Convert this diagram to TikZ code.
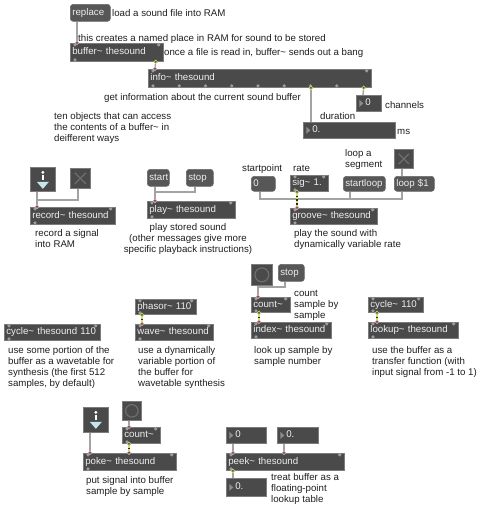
\documentclass[tikz,border=0pt]{standalone}
\usepackage{fontspec}
\setmainfont{Liberation Sans}
\usepackage{tikz}
\usetikzlibrary{arrows.meta, positioning}

\definecolor{boxbg}{HTML}{4A4A4A}
\definecolor{boxline}{HTML}{7C7C7C}
\definecolor{msgbg}{HTML}{575757}
\definecolor{msgline}{HTML}{696969}
\definecolor{boxtext}{HTML}{EEEEEE}
\definecolor{notetext}{HTML}{1E1E1E}
\definecolor{cordgray}{HTML}{A3A3A3}
\definecolor{portin}{HTML}{E3A3A3}
\definecolor{portout}{HTML}{C9D36A}
\definecolor{portdot}{HTML}{9C9C9C}
\definecolor{sigyel}{HTML}{D8DC6A}
\definecolor{numtri}{HTML}{8C8C8C}
\definecolor{xgray}{HTML}{6E6E6E}
\definecolor{adctri}{HTML}{C6E6EE}

\tikzset{
  obj/.style={anchor=north west, fill=boxbg, draw=boxline, line width=0.7pt, text=boxtext,
    text width=#1, inner xsep=2pt, inner ysep=0pt, minimum height=16pt, text height=7pt, text depth=2pt},
  msg/.style={obj=#1, fill=msgbg, draw=msgline, rounded corners=3pt},
  num/.style={obj=#1, execute at begin node=\hspace*{7pt},
    path picture={\fill[numtri] ([xshift=3pt,yshift=3.5pt]path picture bounding box.west)
      -- ++(4pt,-3.5pt) -- ++(-4pt,-3.5pt) -- cycle;}},
  toggle/.style={anchor=north west, fill=boxbg, draw=boxline, line width=0.7pt, inner sep=0pt, minimum size=#1,
    path picture={\draw[xgray, line width=1.2pt]
      ([shift={(4.5pt,-4.5pt)}]path picture bounding box.north west) -- ([shift={(-4.5pt,4.5pt)}]path picture bounding box.south east)
      ([shift={(-4.5pt,-4.5pt)}]path picture bounding box.north east) -- ([shift={(4.5pt,4.5pt)}]path picture bounding box.south west);}},
  bang/.style={anchor=north west, fill=boxbg, draw=boxline, line width=0.7pt, inner sep=0pt, minimum size=#1,
    path picture={\draw[xgray, line width=1.2pt] (path picture bounding box.center) circle[radius=0.33*#1];}},
  adc/.style={anchor=north west, fill=boxbg, draw=boxline, line width=0.7pt, inner sep=0pt,
    minimum width=25pt, minimum height=24pt,
    path picture={
      \fill[white] ([yshift=-5pt]path picture bounding box.north) circle[radius=1.6pt];
      \draw[white, line width=2pt] ([yshift=-7.5pt]path picture bounding box.north) -- ([yshift=-12.5pt]path picture bounding box.north);
      \fill[adctri] ([shift={(-6pt,-14.5pt)}]path picture bounding box.north) -- ([shift={(6pt,-14.5pt)}]path picture bounding box.north)
        -- ([yshift=-21.5pt]path picture bounding box.north) -- cycle;}},
  note/.style={anchor=base west, align=left, inner sep=0pt, text=notetext},
  portdot/.style={fill=portdot},
  cord/.style={draw=cordgray, line width=1.4pt},
  toin/.style={shorten >=-2pt, arrows={-Circle[length=4.2pt, fill=boxbg, color=portin, line width=0.7pt]}},
  fromout/.style={shorten <=-2pt, arrows={Circle[length=4.2pt, fill=boxbg, color=portout, line width=0.7pt]-}},
  objcord/.style={shorten <=-2pt, shorten >=-2pt,
    arrows={Circle[length=4.2pt, fill=boxbg, color=portout, line width=0.7pt]-Circle[length=4.2pt, fill=boxbg, color=portin, line width=0.7pt]}},
  sigcord/.style={draw=black!85, line width=2.4pt,
    postaction={draw=sigyel, line width=1.2pt, dash pattern=on 2pt off 1.6pt, -, shorten <=2pt, shorten >=2pt}}
}

\begin{document}
\begin{tikzpicture}[x=1pt, y=-1pt, font=\fontsize{9.7}{11}\selectfont]
    \useasboundingbox (0,0) rectangle (480,507);

    % buffer and info
    \node[msg=36, minimum height=17pt] (replace) at (70,4) {replace};
    \node[obj=89, minimum height=18pt] (buffer) at (70,43) {buffer\textasciitilde{} thesound};
    \node[obj=219, minimum height=18pt] (info) at (148,69) {info\textasciitilde{} thesound};
    \node[num=21] (chan) at (356,95) {0};
    \node[num=88] (dur) at (303,122) {0.};

    % record~ and play~
    \node[adc] (adc1) at (30,167) {};
    \node[toggle=20pt] (tog1) at (70,168) {};
    \node[obj=81, minimum height=17pt] (record) at (30,207) {record\textasciitilde{} thesound};
    \node[msg=18, minimum height=17pt] (start) at (147,169) {start};
    \node[msg=23, minimum height=17pt] (stop) at (186,169) {stop};
    \node[obj=84, minimum height=17pt] (play) at (147,201) {play\textasciitilde{} thesound};

    % groove~
    \node[msg=20, minimum height=15pt] (zero) at (251,176) {0};
    \node[obj=34] (sig) at (290,175) {sig\textasciitilde{} 1.};
    \node[msg=38, minimum height=15pt] (sloop) at (343,176) {startloop};
    \node[toggle=19pt] (tog2) at (394,149) {};
    \node[msg=36, minimum height=15pt] (loop) at (394,176) {loop \$1};
    \node[obj=83] (groove) at (290,208) {groove\textasciitilde{} thesound};

    % wavetables
    \node[obj=57, minimum height=15pt] (phasor) at (135,299) {phasor\textasciitilde{} 110};
    \node[obj=74] (wave) at (135,324) {wave\textasciitilde{} thesound};
    \node[obj=92] (cyclea) at (4,324) {cycle\textasciitilde{} thesound 110};
    \node[bang=21pt] (banga) at (251,264) {};
    \node[msg=22, minimum height=17pt] (stopb) at (278,264) {stop};
    \node[obj=35, minimum height=15pt] (counta) at (251,297) {count\textasciitilde};
    \node[obj=76] (index) at (251,322) {index\textasciitilde{} thesound};
    \node[obj=51, minimum height=15pt] (cycleb) at (368,297) {cycle\textasciitilde{} 110};
    \node[obj=86] (lookup) at (368,322) {lookup\textasciitilde{} thesound};

    % poke~ and peek~
    \node[adc, minimum height=25pt] (adc2) at (83,407) {};
    \node[bang=19pt] (bangb) at (122,401) {};
    \node[obj=34] (countb) at (122,427) {count\textasciitilde};
    \node[obj=89, minimum height=17pt] (poke) at (83,453) {poke\textasciitilde{} thesound};
    \node[num=36] (numidx) at (226,427) {0};
    \node[num=37] (numval) at (277,427) {0.};
    \node[obj=114, minimum height=17pt] (peek) at (226,453) {peek\textasciitilde{} thesound};
    \node[num=36, minimum height=18pt] (numout) at (226,478) {0.};

    % free inlets and outlets
    \foreach \n in {buffer, info, record, play, sig, groove, phasor, wave, cyclea, counta, index, cycleb, lookup, countb, poke, peek} {
        \fill[portdot] ([shift={(5pt,-1.8pt)}]\n.north west) circle[radius=1.8pt];
        \fill[portdot] ([shift={(-5pt,-1.8pt)}]\n.north east) circle[radius=1.8pt];
        \fill[portdot] ([shift={(5pt,1.8pt)}]\n.south west) circle[radius=1.8pt];
    }
    \foreach \k in {1,...,7}
        \fill[portdot] ([xshift={5pt+26.25pt*\k}, yshift=1.8pt]info.south west) circle[radius=1.8pt];

    % cords
    \draw[cord, toin] ([xshift=7pt]replace.south west) -- ([xshift=7pt]buffer.north west);
    \draw[cord, objcord] ([xshift=-8pt]buffer.south east) -- ([xshift=7pt]info.north west);
    \draw[cord, fromout] ([xshift=-8pt]info.south east) -- ([xshift=7pt]chan.north west);
    \draw[cord, fromout] ([xshift=163pt]info.south west) -- ([xshift=8pt]dur.north west);

    \draw[cord, toin] ([xshift=7pt]adc1.south west) -- ([xshift=7pt]record.north west);
    \draw[cord, toin] ([xshift=8pt]tog1.south west) |- ([xshift=7pt, yshift=7pt]record.north west) -- ([xshift=7pt]record.north west);
    \draw[cord, toin] ([xshift=8pt]start.south west) -- ([xshift=8pt]play.north west);
    \draw[cord, toin] ([xshift=9pt]stop.south west) |- ([xshift=8pt, yshift=9pt]play.north west) -- ([xshift=8pt]play.north west);

    \draw[cord, toin] ([xshift=9pt]zero.south west) |- ([xshift=7pt, yshift=9pt]groove.north west) -- ([xshift=7pt]groove.north west);
    \draw[cord] ([xshift=7pt]sloop.south west) |- ([xshift=7pt, yshift=9pt]groove.north west);
    \draw[cord] ([xshift=8pt]loop.south west) |- ([xshift=7pt, yshift=9pt]groove.north west);
    \draw[cord] ([xshift=8pt]tog2.south west) -- ([xshift=8pt]loop.north west);
    \draw[sigcord, objcord] ([xshift=7pt]sig.south west) -- ([xshift=7pt]groove.north west);

    \draw[sigcord, objcord] ([xshift=7pt]phasor.south west) -- ([xshift=7pt]wave.north west);
    \draw[cord, toin] ([xshift=7pt]banga.south west) -- ([xshift=7pt]counta.north west);
    \draw[cord, toin] ([xshift=7pt]stopb.south west) |- ([xshift=7pt, yshift=10pt]counta.north west) -- ([xshift=7pt]counta.north west);
    \draw[sigcord, objcord] ([xshift=8pt]counta.south west) -- ([xshift=8pt]index.north west);
    \draw[sigcord, objcord] ([xshift=9pt]cycleb.south west) -- ([xshift=9pt]lookup.north west);

    \draw[cord, toin] ([xshift=7pt]adc2.south west) -- ([xshift=7pt]poke.north west);
    \draw[cord, toin] ([xshift=7pt]bangb.south west) -- ([xshift=7pt]countb.north west);
    \draw[sigcord, objcord] ([xshift=7pt]countb.south west) -- ([xshift=46pt]poke.north west);
    \draw[cord, toin] ([xshift=7pt]numidx.south west) -- ([xshift=7pt]peek.north west);
    \draw[cord, toin] ([xshift=7pt]numval.south west) -- ([xshift=58pt]peek.north west);
    \draw[cord, fromout] ([xshift=7pt]peek.south west) -- ([xshift=7pt]numout.north west);

    % comments (base = last line)
    \node[note] (txtload) at (112,16.5) {load a sound file into RAM};
    \node[note] (txtcreate) at (78,41.5) {this creates a named place in RAM for sound to be stored};
    \node[note] (txtbang) at (164,55.5) {once a file is read in, buffer\textasciitilde{} sends out a bang};
    \node[note] (txtinfo) at (104,100.5) {get information about the current sound buffer};
    \node[note] (txtchan) at (385,108.5) {channels};
    \node[note] (txtdur) at (320,119.5) {duration};
    \node[note] (txtms) at (397,134.5) {ms};
    \node[note] (txtten) at (54,141.5) {ten objects that can access\\the contents of a buffer\textasciitilde{} in\\deifferent ways};
    \node[note] (txtrecord) at (35,247.5) {record a signal\\into RAM};
    \node[note, anchor=base, align=center] (txtplay) at (188,252.5) {play stored sound\\(other messages give more\\specific playback instructions)};
    \node[note] (txtstart) at (242,171.5) {startpoint};
    \node[note] (txtrate) at (293,171.5) {rate};
    \node[note] (txtseg) at (345,167.5) {loop a\\segment};
    \node[note] (txtgroove) at (294,247.5) {play the sound with\\dynamically variable rate};
    \node[note] (txtcycle) at (8,386.5) {use some portion of the\\buffer as a wavetable for\\synthesis (the first 512\\samples, by default)};
    \node[note] (txtwave) at (138,386.5) {use a dynamically\\variable portion of\\the buffer for\\wavetable synthesis};
    \node[note] (txtcount) at (294,318.5) {count\\sample by\\sample};
    \node[note] (txtindex) at (254,364.5) {look up sample by\\sample number};
    \node[note] (txtlookup) at (372,375.5) {use the buffer as a\\transfer function (with\\input signal from -1 to 1)};
    \node[note] (txtpoke) at (86,494.5) {put signal into buffer\\sample by sample};
    \node[note] (txtpeek) at (271,502.5) {treat buffer as a\\floating-point\\lookup table};
\end{tikzpicture}
\end{document}
